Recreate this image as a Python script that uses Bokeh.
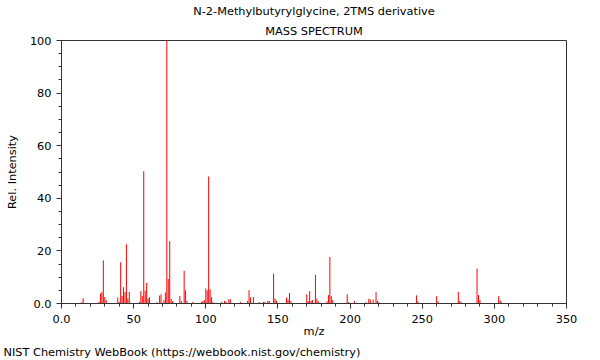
from bokeh.plotting import figure
from bokeh.models import Title, CustomJSTickFormatter, ColumnDataSource, Range1d, FixedTicker
from bokeh.embed import file_html
from bokeh.resources import INLINE

title_text = "N-2-Methylbutyrylglycine, 2TMS derivative"
subtitle_text = "MASS SPECTRUM"
x_label = "m/z"
y_label = "Rel. Intensity"
footer_text = "NIST Chemistry WebBook (https://webbook.nist.gov/chemistry)"

mz = [14, 15, 26, 27, 28, 29, 30, 31, 39, 40, 41, 42, 43, 44, 45, 46, 47,
      54, 55, 56, 57, 58, 59, 60, 61, 66, 68, 69, 71, 72, 73, 74, 75, 76, 77,
      82, 83, 85, 86, 87, 91, 97, 98, 99, 100, 101, 102, 103, 104, 105,
      111, 113, 114, 116, 117, 124, 129, 130, 131, 133, 137, 140, 141, 143, 144,
      147, 148, 149, 156, 157, 158, 159, 170, 171, 172, 173, 174, 176, 177, 178,
      184, 185, 186, 187, 188, 198, 199, 203, 211, 213, 214, 216, 218, 219, 220,
      246, 247, 260, 261, 275, 276, 277, 288, 289, 290, 303, 304, 305]
intensity = [0.5, 2.0, 0.6, 3.8, 4.4, 16.4, 2.5, 1.3, 2.3, 0.6, 15.7, 2.9, 6.2, 4.4, 22.5, 1.9, 4.4,
             0.6, 4.7, 2.9, 50.3, 4.9, 7.8, 1.9, 2.3, 0.5, 3.0, 3.5, 1.3, 4.2, 100.0, 9.3, 23.7, 1.7, 0.9,
             2.9, 1.0, 12.4, 5.0, 1.0, 0.6, 0.6, 1.0, 1.3, 5.7, 5.0, 48.3, 5.4, 2.4, 0.6,
             0.6, 1.0, 0.6, 1.6, 1.6, 0.6, 1.0, 5.1, 2.3, 2.5, 0.6, 0.6, 0.6, 1.0, 1.0,
             11.4, 1.9, 1.1, 2.3, 1.5, 4.0, 0.9, 3.5, 0.9, 4.7, 1.0, 1.3, 10.9, 1.9, 0.8,
             0.8, 3.2, 17.7, 2.8, 1.3, 3.5, 0.5, 1.0, 0.5, 1.8, 1.5, 1.5, 4.3, 1.0, 0.5,
             3.1, 0.8, 2.8, 0.8, 4.4, 1.0, 0.5, 13.3, 3.2, 1.3, 2.8, 1.2, 0.5]
baseline = [0.0] * len(mz)

x_ticks = [0, 50, 100, 150, 200, 250, 300, 350]
y_ticks = [0, 20, 40, 60, 80, 100]

FONT = "DejaVu Sans"
FS = "11.33px"

src = ColumnDataSource(dict(mz=mz, intensity=intensity, base=baseline))

p = figure(width=600, height=360, output_backend="svg", toolbar_location=None,
           x_range=Range1d(0, 350), y_range=Range1d(0, 100),
           min_border_left=61, min_border_right=34, min_border_top=40, min_border_bottom=56)

p.segment(x0="mz", y0="base", x1="mz", y1="intensity", source=src,
          line_color="#ff0000", line_width=1)

p.grid.visible = False
p.outline_line_color = "#333333"
p.background_fill_color = "white"
p.border_fill_color = "white"

fmt = CustomJSTickFormatter(code="return tick == 0 ? '0.0' : tick.toFixed(0);")
for ax in (p.xaxis[0], p.yaxis[0]):
    ax.formatter = fmt
    ax.major_label_text_font = FONT
    ax.major_label_text_font_size = FS
    ax.major_label_text_color = "black"
    ax.axis_label_text_font = FONT
    ax.axis_label_text_font_size = FS
    ax.axis_label_text_font_style = "normal"
    ax.axis_label_text_color = "black"
    ax.axis_line_color = "#333333"
    ax.major_tick_line_color = "#333333"
    ax.minor_tick_line_color = "#333333"
    ax.major_tick_out = 5
    ax.major_tick_in = 0
    ax.minor_tick_out = 3
    ax.minor_tick_in = 0

p.xaxis[0].ticker = FixedTicker(ticks=x_ticks, minor_ticks=list(range(0, 351, 10)))
p.yaxis[0].ticker = FixedTicker(ticks=y_ticks, minor_ticks=list(range(0, 101, 5)))
p.xaxis[0].axis_label = x_label
p.yaxis[0].axis_label = y_label
p.xaxis[0].major_label_standoff = 6
p.xaxis[0].axis_label_standoff = -2
p.yaxis[0].axis_label_standoff = 8

p.add_layout(Title(text=subtitle_text, align="center", text_font=FONT, text_font_size=FS,
                   text_font_style="normal", text_color="black", standoff=6), "above")
p.add_layout(Title(text=title_text, align="center", text_font=FONT, text_font_size=FS,
                   text_font_style="normal", text_color="black", standoff=1), "above")
p.add_layout(Title(text=footer_text, align="left", offset=-58, text_font=FONT, text_font_size=FS,
                   text_font_style="normal", text_color="black", standoff=4), "below")

open("out.html", "w").write(file_html(p, INLINE))
